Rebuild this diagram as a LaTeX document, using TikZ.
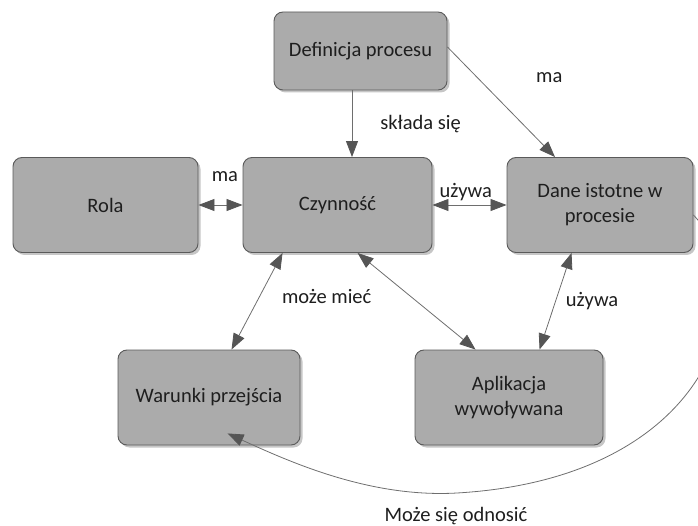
\documentclass[tikz,border=0pt]{standalone}
\usepackage{fontspec}
\setmainfont{Carlito}
\usetikzlibrary{arrows.meta,shadows,calc}
\definecolor{boxfill}{HTML}{ABABAB}
\definecolor{boxline}{HTML}{5A5A5A}
\definecolor{tipcol}{HTML}{555555}
\definecolor{linkcol}{HTML}{6E6E6E}
\definecolor{txtcol}{HTML}{1E1E1E}
\begin{document}
\begin{tikzpicture}[x=1pt,y=-1pt,
  entity/.style={draw=boxline,line width=0.9pt,fill=boxfill,rounded corners=9pt,
    minimum width=#1,minimum height=95pt,inner sep=4pt,align=center,
    font=\fontsize{20.5}{25}\selectfont,text=txtcol,
    drop shadow={shadow xshift=2.5pt,shadow yshift=-2.5pt,fill=gray!45,opacity=1}},
  entity/.default=185pt,
  tip/.style={Triangle[length=16pt,width=12pt,fill=tipcol,color=tipcol]},
  link/.style={draw=linkcol,line width=0.8pt,-{Triangle[length=16pt,width=12pt,fill=tipcol,color=tipcol]}},
  blink/.style={draw=linkcol,line width=0.8pt,
    {Triangle[length=16pt,width=12pt,fill=tipcol,color=tipcol]}-{Triangle[length=16pt,width=12pt,fill=tipcol,color=tipcol]}},
  lbl/.style={font=\fontsize{20.5}{25}\selectfont,text=txtcol,inner sep=1pt}]
\useasboundingbox (0,0) rectangle (698,526);
\begin{scope}
\clip (0,0) rectangle (698,526);

% entities
\node[entity=173pt,minimum height=78pt] (def) at (360.5,51) {Definicja procesu};
\node[entity] (rola) at (105.5,205) {Rola};
\node[entity=189pt] (czy) at (337.5,205) {Czynność};
\node[entity=186pt] (dane) at (600,205) {Dane istotne w\\procesie};
\node[entity=182pt] (war) at (209,397.5) {Warunki przejścia};
\node[entity=188pt] (apl) at (509,397.5) {Aplikacja\\wywoływana};

% relations
\draw[link] ([xshift=-8.5pt]def.south) -- ([xshift=14.5pt]czy.north)
  node[lbl,pos=0.5,right,xshift=27pt] {składa się};
\draw[link] ([yshift=4pt]def.east) -- ([xshift=-45pt]dane.north)
  node[lbl,pos=0.3,above right,xshift=55pt,yshift=-4pt] {ma};
\draw[blink] (rola.east) -- (czy.west)
  node[lbl,pos=0.6,above,yshift=22pt] {ma};
\draw[blink] (czy.east) -- (dane.west)
  node[lbl,pos=0.45,above,yshift=3pt] {używa};
\draw[blink] ([xshift=40pt]czy.south west) -- ([xshift=114pt]war.north west)
  node[lbl,pos=0.45,right,xshift=21pt] {może mieć};
\draw[blink] ([xshift=115pt]czy.south west) -- ([xshift=61pt]apl.north west);
\draw[blink] ([xshift=65pt]dane.south west) -- ([xshift=125pt]apl.north west)
  node[lbl,pos=0.5,right,xshift=9pt] {używa};

% long reference
\draw[link] ([yshift=-10pt]dane.east) .. controls (765,290) and (715,478) .. (457,493)
  .. controls (370,498) and (290,462) .. ([xshift=110pt,yshift=12pt]war.south west);
\node[lbl] (odn) at (456,516) {Może się odnosić};
\end{scope}
\end{tikzpicture}
\end{document}
